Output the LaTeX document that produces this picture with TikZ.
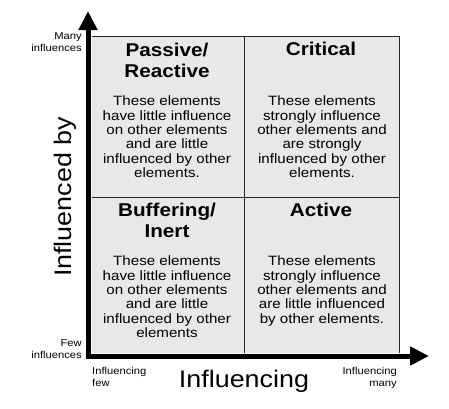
\documentclass[tikz,border=0pt]{standalone}
\usepackage{fontspec}
\setmainfont{Liberation Sans}[FakeStretch=1.12]
\usetikzlibrary{arrows.meta}
\begin{document}
\begin{tikzpicture}[x=1pt, y=-1pt, >={Triangle[length=19pt,width=18pt]},
  axis/.style={line width=5pt, line join=miter},
  frame/.style={line width=0.9pt, draw=black!85},
  title/.style={align=center, inner sep=0pt, anchor=north,
    font=\fontsize{18.5}{20.5}\selectfont\bfseries},
  body/.style={align=center, inner sep=0pt, anchor=north,
    font=\fontsize{13.5}{14.3}\selectfont},
  endlabel/.style={inner sep=0pt, font=\fontsize{10}{12}\selectfont},
  axislabel/.style={inner sep=0pt, font=\fontsize{24}{28}\selectfont}]
  \colorlet{cell}{black!9}
  \useasboundingbox (0,0) rectangle (449,408);
  \fill[cell] (92,36) rectangle (399,353);
  \draw[frame] (92,36) -- (399,36) -- (399,353);
  \draw[frame] (244,36) -- (244,353); % division vertical
  \draw[frame] (92,197) -- (399,197); % division horizontal
  \coordinate (origin) at (88,356);
  \coordinate (ytip) at (88,11);
  \coordinate (xtip) at (429,356);
  \draw[axis, <->] (ytip) -- (origin) -- (xtip);
  \node[title] (passive) at (167,43) {Passive/\\Reactive};
  \node[title] (critical) at (321,42) {Critical};
  \node[title] (buffering) at (167,203) {Buffering/\\Inert};
  \node[title] (active) at (321,203) {Active};
  \node[body] (passivetxt) at (167,96) {These elements\\have little influence\\on other elements\\and are little\\influenced by other\\elements.};
  \node[body] (criticaltxt) at (322,96) {These elements\\strongly influence\\other elements and\\are strongly\\influenced by other\\elements.};
  \node[body] (bufferingtxt) at (167,256) {These elements\\have little influence\\on other elements\\and are little\\influenced by other\\elements};
  \node[body] (activetxt) at (322,256) {These elements\\strongly influence\\other elements and\\are little influenced\\by other elements.};
  \node[endlabel, anchor=north east, align=right] (many) at (82,32) {Many\\influences};
  \node[endlabel, anchor=north east, align=right] (few) at (82,339) {Few\\influences};
  \node[endlabel, anchor=north west, align=left] (infew) at (92,367) {Influencing\\few};
  \node[endlabel, anchor=north east, align=right] (inmany) at (397,367) {Influencing\\many};
  \node[axislabel] (xlabel) at (244,381) {Influencing};
  \node[axislabel, rotate=90] (ylabel) at (65,197) {Influenced by};
\end{tikzpicture}
\end{document}
